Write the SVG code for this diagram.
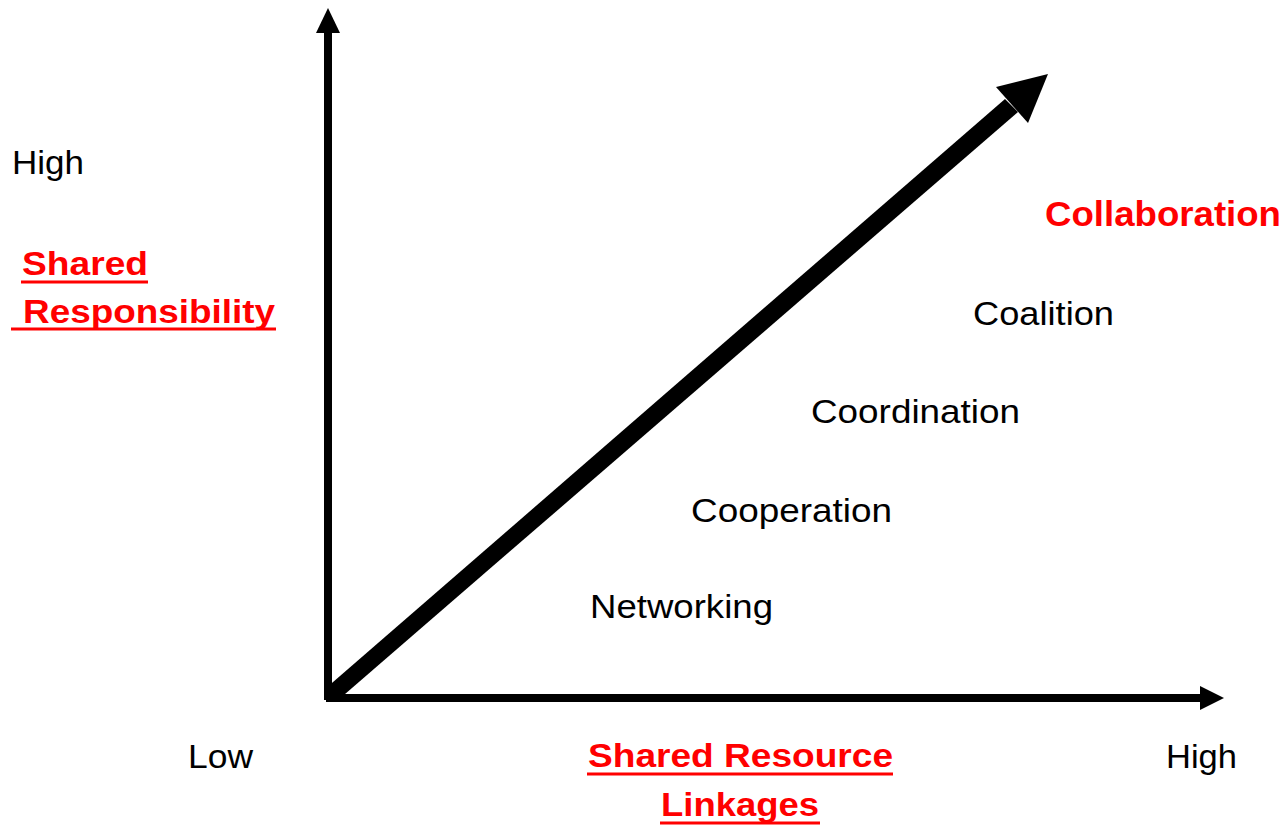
<svg xmlns="http://www.w3.org/2000/svg" width="1287" height="827" viewBox="0 0 1287 827">
<style>
.t{font-family:"Liberation Sans",Arial,sans-serif;fill:#000}
.r{font-family:"Liberation Sans",Arial,sans-serif;fill:#ff0000;font-weight:bold}
.u{stroke:#ff0000;stroke-width:3}
</style>
<rect width="1287" height="827" fill="#fff"/>
<g id="connectors">
<line x1="328" y1="32" x2="328" y2="700" stroke="#000" stroke-width="8"/>
<polygon points="328,8 340,33 316,33" fill="#000"/>
<line x1="326" y1="698" x2="1201" y2="698" stroke="#000" stroke-width="8"/>
<polygon points="1224,698 1200,686 1200,710" fill="#000"/>
<polygon points="325,689 1005,99 1018,112 337,701" fill="#000"/>
<polygon points="1048,74 996,87 1028,123" fill="#000"/>
</g>
<g id="y-axis-labels">
<text class="t" x="12" y="174" font-size="33" textLength="72" lengthAdjust="spacingAndGlyphs">High</text>
<text class="r" x="22" y="275" font-size="34" textLength="126" lengthAdjust="spacingAndGlyphs">Shared</text>
<line class="u" x1="21" y1="282" x2="148" y2="282"/>
<text class="r" x="23" y="323" font-size="34" textLength="252" lengthAdjust="spacingAndGlyphs">Responsibility</text>
<line class="u" x1="11" y1="329" x2="276" y2="329"/>
</g>
<g id="collaboration"><text class="r" x="1045" y="226" font-size="35" textLength="236" lengthAdjust="spacingAndGlyphs">Collaboration</text></g>
<g id="coalition"><text class="t" x="973" y="325" font-size="33" textLength="141" lengthAdjust="spacingAndGlyphs">Coalition</text></g>
<g id="coordination"><text class="t" x="811" y="423" font-size="33" textLength="209" lengthAdjust="spacingAndGlyphs">Coordination</text></g>
<g id="cooperation"><text class="t" x="691" y="522" font-size="33" textLength="201" lengthAdjust="spacingAndGlyphs">Cooperation</text></g>
<g id="networking"><text class="t" x="590" y="618" font-size="33" textLength="183" lengthAdjust="spacingAndGlyphs">Networking</text></g>
<g id="x-axis-labels">
<text class="t" x="188" y="768" font-size="34" textLength="65" lengthAdjust="spacingAndGlyphs">Low</text>
<text class="t" x="1166" y="768" font-size="33" textLength="71" lengthAdjust="spacingAndGlyphs">High</text>
<text class="r" x="588" y="767" font-size="34" textLength="305" lengthAdjust="spacingAndGlyphs">Shared Resource</text>
<line class="u" x1="587" y1="774" x2="893" y2="774"/>
<text class="r" x="661" y="816" font-size="34" textLength="158" lengthAdjust="spacingAndGlyphs">Linkages</text>
<line class="u" x1="660" y1="823" x2="820" y2="823"/>
</g>
</svg>
